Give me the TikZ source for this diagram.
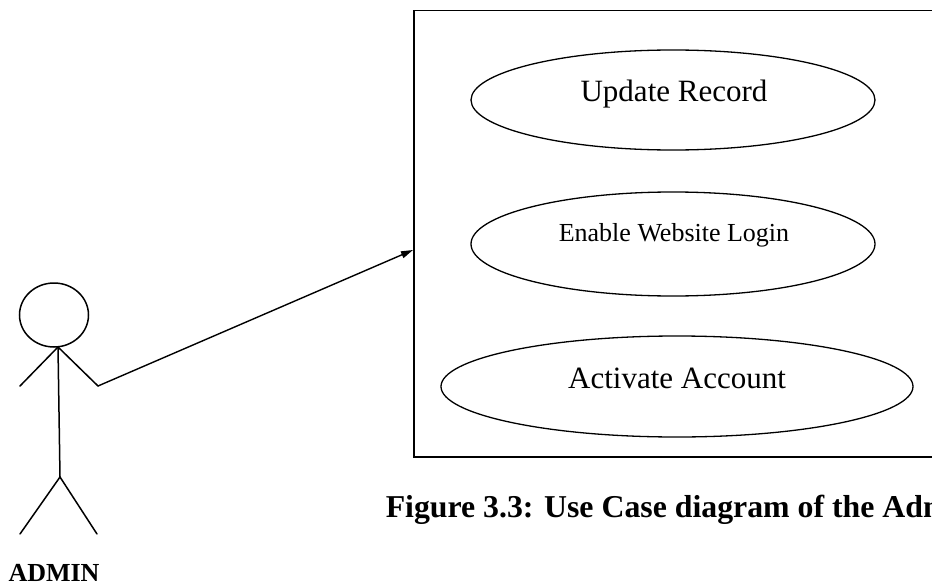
\documentclass[tikz,border=0pt]{standalone}
\usepackage{fontspec}
\setmainfont{Liberation Serif}
\usetikzlibrary{shapes.geometric,arrows.meta}
\begin{document}
\begin{tikzpicture}[x=1pt,y=-1pt,
  line width=1.5pt,
  usecase/.style={draw, ellipse, inner sep=0pt, line width=1.3pt},
  uclabel/.style={anchor=base, inner sep=0pt},
  stroke/.style={line width=1.5pt, line cap=round},
  assoc/.style={line width=1.4pt, -{Triangle[length=12pt,width=7pt]}}]
  % page frame
  \clip (0,0) rectangle (932,586);
  \fill[white] (0,0) rectangle (932,586);

  % system boundary
  \node[draw, rectangle, line width=1.5pt, minimum width=540pt, minimum height=446pt,
        anchor=north west, inner sep=0pt] (system) at (413,10) {};

  % use cases
  \node[usecase, minimum width=404pt, minimum height=100pt] (update) at (673,100) {};
  \node[usecase, minimum width=404pt, minimum height=104pt] (enable) at (673,244) {};
  \node[usecase, minimum width=472pt, minimum height=101pt] (activate) at (677,386.5) {};
  \node[uclabel, font=\fontsize{31}{36}\selectfont] (updateText) at (674,102) {Update Record};
  \node[uclabel, font=\fontsize{26}{30}\selectfont] (enableText) at (674,241) {Enable Website Login};
  \node[uclabel, font=\fontsize{31}{36}\selectfont] (activateText) at (677,388) {Activate Account};

  % actor
  \node[draw, ellipse, line width=1.5pt, minimum width=69pt, minimum height=64pt,
        inner sep=0pt] (head) at (54,315) {};
  \coordinate (neck) at (58,347);
  \coordinate (hip) at (60,477);
  \coordinate (lhand) at (20,386);
  \coordinate (rhand) at (98,386);
  \coordinate (lfoot) at (20,534);
  \coordinate (rfoot) at (97,534);
  \draw[stroke] (neck) -- (hip);
  \draw[stroke] (lhand) -- (neck) -- (rhand);
  \draw[stroke] (lfoot) -- (hip) -- (rfoot);
  \node[font=\bfseries\fontsize{26}{30}\selectfont, anchor=base] (actor) at (54,581) {ADMIN};

  % association
  \coordinate (entry) at (system.west |- 0,250);
  \draw[assoc] (rhand) -- (entry);

  % caption, running past the right edge of the page
  \node[anchor=base west, inner sep=0pt, font=\bfseries\fontsize{31.8}{36}\selectfont]
    (caption) at (385,517) {Figure 3.3: Use Case diagram of the Admin};
\end{tikzpicture}
\end{document}
